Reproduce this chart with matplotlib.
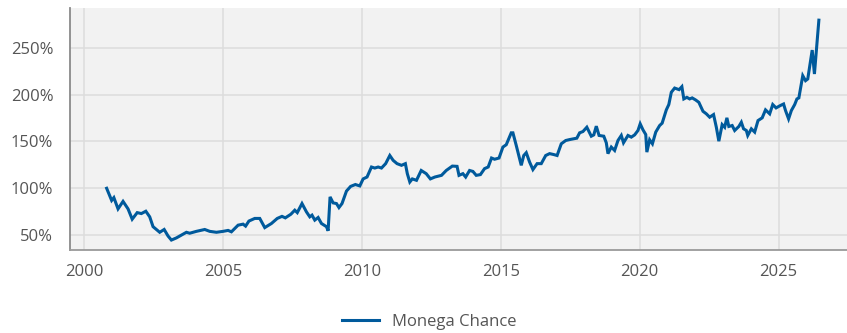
import matplotlib
matplotlib.use('Agg')
import matplotlib.pyplot as plt
from matplotlib.ticker import FuncFormatter

# fund performance, indexed to 100% at launch (decimal years)
dates = [2000.82, 2001.00, 2001.08, 2001.23, 2001.41, 2001.59, 2001.74, 2001.92,
         2002.07, 2002.23, 2002.37, 2002.49, 2002.61, 2002.73, 2002.89, 2003.03,
         2003.15, 2003.33, 2003.51, 2003.69, 2003.81, 2004.05, 2004.35, 2004.53,
         2004.77, 2005.01, 2005.19, 2005.31, 2005.55, 2005.73, 2005.82, 2005.94,
         2006.15, 2006.33, 2006.51, 2006.75, 2006.96, 2007.13, 2007.25, 2007.45,
         2007.59, 2007.68, 2007.85, 2008.01, 2008.13, 2008.21, 2008.31, 2008.43,
         2008.55, 2008.73, 2008.79, 2008.86, 2008.97, 2009.09, 2009.18, 2009.29,
         2009.45, 2009.60, 2009.77, 2009.93, 2010.05, 2010.19, 2010.35, 2010.47,
         2010.59, 2010.71, 2010.86, 2011.01, 2011.13, 2011.27, 2011.43, 2011.57,
         2011.64, 2011.73, 2011.82, 2011.97, 2012.14, 2012.32, 2012.47, 2012.63,
         2012.87, 2013.04, 2013.26, 2013.43, 2013.50, 2013.64, 2013.74, 2013.88,
         2014.00, 2014.12, 2014.27, 2014.42, 2014.55, 2014.67, 2014.78, 2014.94,
         2015.08, 2015.20, 2015.38, 2015.44, 2015.56, 2015.65, 2015.74, 2015.83,
         2015.92, 2016.04, 2016.16, 2016.31, 2016.46, 2016.62, 2016.76, 2016.91,
         2017.03, 2017.18, 2017.34, 2017.48, 2017.63, 2017.74, 2017.84, 2017.96,
         2018.10, 2018.26, 2018.35, 2018.44, 2018.54, 2018.71, 2018.80, 2018.86,
         2018.98, 2019.10, 2019.22, 2019.34, 2019.42, 2019.58, 2019.70, 2019.82,
         2019.94, 2020.02, 2020.12, 2020.22, 2020.26, 2020.36, 2020.46, 2020.58,
         2020.72, 2020.81, 2020.96, 2021.05, 2021.14, 2021.26, 2021.42, 2021.52,
         2021.59, 2021.70, 2021.80, 2021.89, 2022.01, 2022.13, 2022.28, 2022.40,
         2022.52, 2022.66, 2022.76, 2022.85, 2022.97, 2023.06, 2023.14, 2023.21,
         2023.33, 2023.42, 2023.57, 2023.66, 2023.74, 2023.84, 2023.89, 2024.02,
         2024.14, 2024.26, 2024.41, 2024.53, 2024.68, 2024.79, 2024.91, 2025.06,
         2025.18, 2025.25, 2025.36, 2025.46, 2025.58, 2025.66, 2025.73, 2025.87,
         2025.97, 2026.05, 2026.21, 2026.29, 2026.45]
values = [100, 87, 90, 78, 86, 78, 67, 74,
          73, 75.5, 69.5, 59, 56, 53, 56, 49,
          44.7, 47, 50, 53, 52, 54, 56, 54,
          53, 54, 55, 53.5, 60.6, 61.7, 59.6, 65,
          67.8, 67.8, 58, 62.4, 67.8, 70, 68.4, 72.3,
          76.6, 74, 83.7, 74.8, 69.5, 71.3, 66, 68.8,
          62.4, 59, 54.6, 90.8, 84.4, 83.7, 79.4, 83.7,
          97, 102, 104, 102.5, 110, 112, 122.7, 121.6,
          122.7, 121.6, 126.3, 135, 129.8, 126.3, 124.5, 126.3,
          115.6, 106.7, 110, 108.5, 119, 115.6, 110, 112,
          113.8, 119, 123.7, 123.4, 113.8, 115.6, 112, 119,
          118, 113.8, 114.6, 121, 122.7, 132.3, 131, 132.3,
          144, 146.5, 159.2, 159.2, 145.7, 135, 124.5, 135,
          138, 128, 120, 126.3, 126.3, 135, 137, 136,
          135, 147.5, 151, 152, 152.8, 153.5, 159.2, 160.6,
          165.2, 155.6, 157, 166.3, 156.4, 155.6, 148.6, 137,
          144, 140.4, 151, 156.4, 148.6, 156.4, 154.6, 157,
          161.7, 168.8, 162.4, 157.4, 138.6, 151.8, 147.5, 160,
          167, 169.5, 183.7, 189.4, 202.5, 207, 205.3, 208.5,
          195.4, 197.1, 195.4, 196.5, 194.4, 191.8, 182.2, 179.5,
          175.9, 178.7, 165.2, 150.3, 168, 165.2, 175.2, 166,
          167, 161.7, 166, 170.5, 163.5, 161.7, 156.4, 163.5,
          160, 172.3, 175.2, 183.7, 179.5, 189.4, 185.8, 188.3,
          190, 183, 174.1, 183, 189.4, 195.4, 196.5, 220.2,
          214.9, 216.7, 247.6, 222, 279.5]

year_ticks = [2000, 2005, 2010, 2015, 2020, 2025]
pct_ticks = [50, 100, 150, 200, 250]

plt.rcParams['font.family'] = ['Open Sans', 'DejaVu Sans']

fig = plt.figure(figsize=(8.47, 3.33), dpi=100)
ax = fig.add_axes([0.0826, 0.249, 0.917, 0.727])
ax.set_facecolor('#f2f2f2')

ax.plot(dates, values, color='#005a9c', linewidth=2.2, label='Monega Chance',
        solid_joinstyle='miter', zorder=3)

ax.set_xlim(1999.5, 2027.45)
ax.set_ylim(34, 292.5)
ax.set_xticks(year_ticks)
ax.set_yticks(pct_ticks)
ax.yaxis.set_major_formatter(FuncFormatter(lambda v, p: f'{v:.0f}%'))

ax.grid(True, color='#dcdcdc', linewidth=1.1, zorder=0)
ax.set_axisbelow(True)
ax.tick_params(axis='both', length=0, labelsize=12, labelcolor='#555555')
ax.tick_params(axis='y', pad=12)
ax.tick_params(axis='x', pad=10)

for side in ['top', 'right']:
    ax.spines[side].set_visible(False)
ax.spines['left'].set_color('#8a8a8a')
ax.spines['left'].set_linewidth(1.3)
ax.spines['bottom'].set_color('#9a9a9a')
ax.spines['bottom'].set_linewidth(1.3)

fig.legend(loc='center', bbox_to_anchor=(0.507, 0.033), frameon=False,
           fontsize=12, labelcolor='#555555', handlelength=2.2, handletextpad=0.8)

fig.savefig('out.png', dpi=100)
